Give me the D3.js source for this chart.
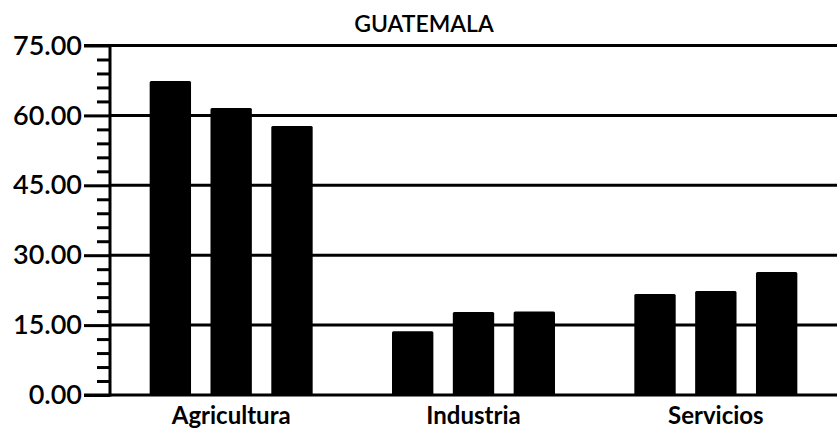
<!DOCTYPE html>
<html><head><meta charset="utf-8">
<script src="https://cdn.jsdelivr.net/npm/d3@7"></script>
<style>
body{margin:0;background:#fff;}
svg{display:block;}
text{font-family:"Lato","Noto Sans",sans-serif;fill:#000;}
</style></head>
<body><svg id="c" width="837" height="432"></svg>
<script>
const title = "GUATEMALA";
const categories = ["Agricultura","Industria","Servicios"];
const series1 = [67.4, 13.7, 21.7];
const series2 = [61.6, 17.8, 22.3];
const series3 = [57.7, 17.9, 26.4];
const yTicks = [0, 15, 30, 45, 60, 75];
const seriesNames = ["s1","s2","s3"];

const W = 837, H = 432;
const m = {left:110, right:0, top:45.5, bottom:37};
const svg = d3.select("#c");

const y = d3.scaleLinear().domain([0,75]).range([H - m.bottom, m.top]);
const x0 = d3.scaleBand().domain(categories).range([m.left, W]).padding(0);
const groupW = 163;
const x1 = d3.scaleBand().domain(seriesNames).range([0, groupW]).paddingInner(0.32).paddingOuter(0);

const data = categories.map((c,i)=>({cat:c, vals:[series1[i],series2[i],series3[i]]}));

// gridlines
svg.append("g").selectAll("line").data(yTicks).join("line")
  .attr("x1", m.left).attr("x2", W)
  .attr("y1", d=>y(d)).attr("y2", d=>y(d))
  .attr("stroke","#000").attr("stroke-width",3);

// bars
const g = svg.append("g").selectAll("g").data(data).join("g")
  .attr("transform", d=>`translate(${x0(d.cat)+x0.bandwidth()/2-groupW/2},0)`);
g.selectAll("rect").data(d=>d.vals.map((v,i)=>({k:seriesNames[i],v}))).join("rect")
  .attr("x", d=>x1(d.k)).attr("width", x1.bandwidth())
  .attr("y", d=>y(d.v)).attr("height", d=>y(0)-y(d.v))
  .attr("fill","#000").attr("rx",1.5);

// minor ticks
const minor = d3.range(0, 75.001, 3).filter(v=>yTicks.indexOf(v)<0);
svg.append("g").attr("transform",`translate(${m.left},0)`)
  .call(d3.axisLeft(y).tickValues(minor).tickSize(13).tickFormat(""))
  .call(a=>a.select(".domain").remove())
  .call(a=>a.selectAll("line").attr("stroke-width",3));

// major axis
svg.append("g").attr("transform",`translate(${m.left},0)`)
  .call(d3.axisLeft(y).tickValues(yTicks).tickSize(26).tickPadding(2).tickFormat(d3.format(".2f")))
  .call(a=>a.select(".domain").attr("stroke-width",3).attr("d",`M-26,${y(75)}H0V${y(0)}H-26`))
  .call(a=>a.selectAll("line").attr("stroke-width",3))
  .call(a=>a.selectAll("text").attr("font-size",27).attr("font-family","Lato, 'Noto Sans', sans-serif").attr("font-weight",600).attr("letter-spacing","0px"));

// x axis labels
svg.append("g").attr("transform",`translate(0,${y(0)})`)
  .call(d3.axisBottom(x0).tickSize(0).tickPadding(12))
  .call(a=>a.select(".domain").remove())
  .call(a=>a.selectAll("text").attr("font-size",24).attr("font-family","Lato, 'Noto Sans', sans-serif").attr("font-weight",700).attr("letter-spacing","0px"));

// title
svg.append("text").attr("x", 424).attr("y", 32).attr("text-anchor","middle")
  .attr("font-size",23).attr("font-weight",600).attr("letter-spacing","0px").text(title);
</script></body></html>
